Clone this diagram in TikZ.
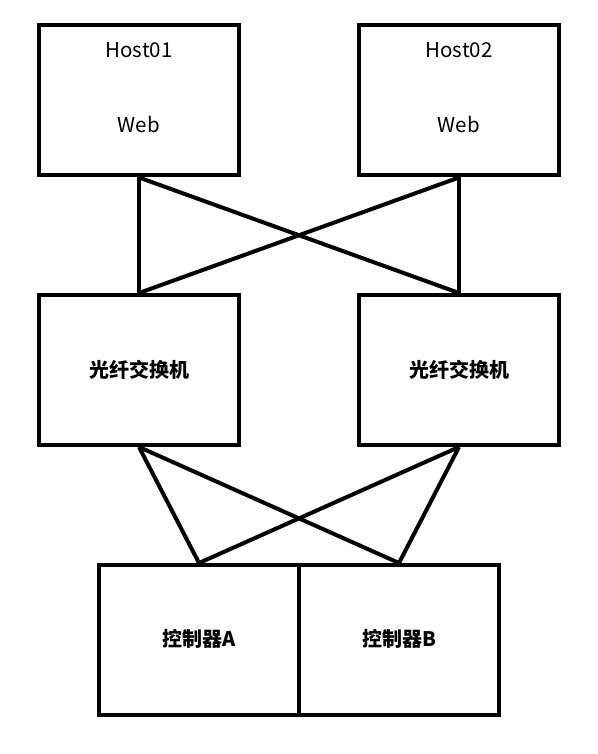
\documentclass[tikz,border=0pt]{standalone}
\usepackage{fontspec}
\setmainfont{Noto Sans CJK SC}
\begin{document}
\begin{tikzpicture}[x=1pt,y=-1pt,
  box/.style={draw=black,line width=4pt,minimum width=200pt,minimum height=150pt,inner sep=0pt,fill=white},
  conn/.style={draw=black,line width=4pt},
  lbl/.style={font=\fontsize{20.5}{24}\selectfont,inner sep=0pt},
  blbl/.style={font=\fontsize{20}{24}\selectfont\bfseries,inner sep=0pt}]
\useasboundingbox (0,0) rectangle (597,754);
\fill[white] (0,0) rectangle (597,754);
\node[box] (h1) at (139,100.5) {};
\node[box] (h2) at (459,100.5) {};
\node[box] (s1) at (139,370) {};
\node[box] (s2) at (459,370) {};
\node[box] (ca) at (199,640) {};
\node[box] (cb) at (399,640) {};
\node[lbl] (h1t) at (139,50) {Host01};
\node[lbl] (h1w) at (139,124) {Web};
\node[lbl] (h2t) at (459,50) {Host02};
\node[lbl] (h2w) at (459,124) {Web};
\node[blbl] (s1t) at (139,370) {光纤交换机};
\node[blbl] (s2t) at (459,370) {光纤交换机};
\node[blbl] (cat) at (199,639) {控制器A};
\node[blbl] (cbt) at (399,639) {控制器B};
\draw[conn] (h1.south) -- (s1.north);
\draw[conn] (h1.south) -- (s2.north);
\draw[conn] (h2.south) -- (s2.north);
\draw[conn] (h2.south) -- (s1.north);
\draw[conn] (s1.south) -- (ca.north);
\draw[conn] (s1.south) -- (cb.north);
\draw[conn] (s2.south) -- (ca.north);
\draw[conn] (s2.south) -- (cb.north);
\end{tikzpicture}
\end{document}
